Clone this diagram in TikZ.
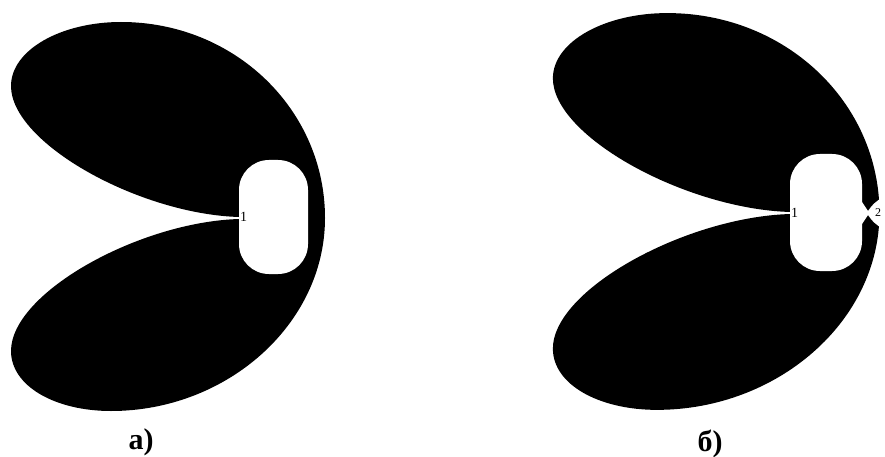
\documentclass[tikz,border=0pt]{standalone}
\usepackage{fontspec}
\setmainfont{Liberation Serif}
\usepackage{tikz}
\usetikzlibrary{positioning}
\tikzset{
  lobes/.style={fill=black,line join=round},
  hole/.style={fill=white,rounded corners=30pt,inner sep=0pt},
  port/.style={font=\fontsize{14}{16}\selectfont,inner sep=1pt},
  caption/.style={font=\fontsize{30}{34}\selectfont\bfseries}
}
% two lobes, drawn round the feed point (the cusp)
\newcommand{\lobepair}[1]{%
  \begin{scope}[#1]
    \fill[lobes] (0,-1)
      .. controls (-100,-4) and (-228,-75) .. (-228,-132)
      .. controls (-228,-168) and (-178,-196) .. (-118,-196)
      .. controls (-4,-196) and (86,-108) .. (86,0)
      .. controls (86,106) and (-12,193) .. (-128,193)
      .. controls (-184,193) and (-228,168) .. (-228,133)
      .. controls (-228,75) and (-100,4) .. (0,1) -- cycle;
  \end{scope}%
}

\begin{document}
\begin{tikzpicture}[x=1pt,y=-1pt]
    \useasboundingbox (0,0) rectangle (885,457);
    % pattern a)
    \lobepair{shift={(239,218)}}
    \node[hole,minimum width=69pt,minimum height=114pt] (holeA) at (273.5,217) {};
    \node[port,anchor=west] (portA) at (holeA.west) {1};
    \node[caption] (capA) at (141,442) {а)};
    % pattern b)
    \lobepair{shift={(790,213)},xscale=1.04,yscale=1.02}
    \node[hole,minimum width=72pt,minimum height=117pt] (holeB) at (826,212.5) {};
    \node[port,anchor=west] (portB) at (holeB.west) {1};
    % the cut in the ring
    \fill[white] (858,196) .. controls (863,204) .. (868,211)
      .. controls (873,204) .. (884,196) -- (884,230)
      .. controls (873,222) .. (868,215)
      .. controls (863,222) .. (858,230) -- cycle;
    \node[port,anchor=west,font=\fontsize{12}{14}\selectfont] (portC) at (874,213) {2};
    \node[caption] (capB) at (710,444) {б)};
\end{tikzpicture}
\end{document}
